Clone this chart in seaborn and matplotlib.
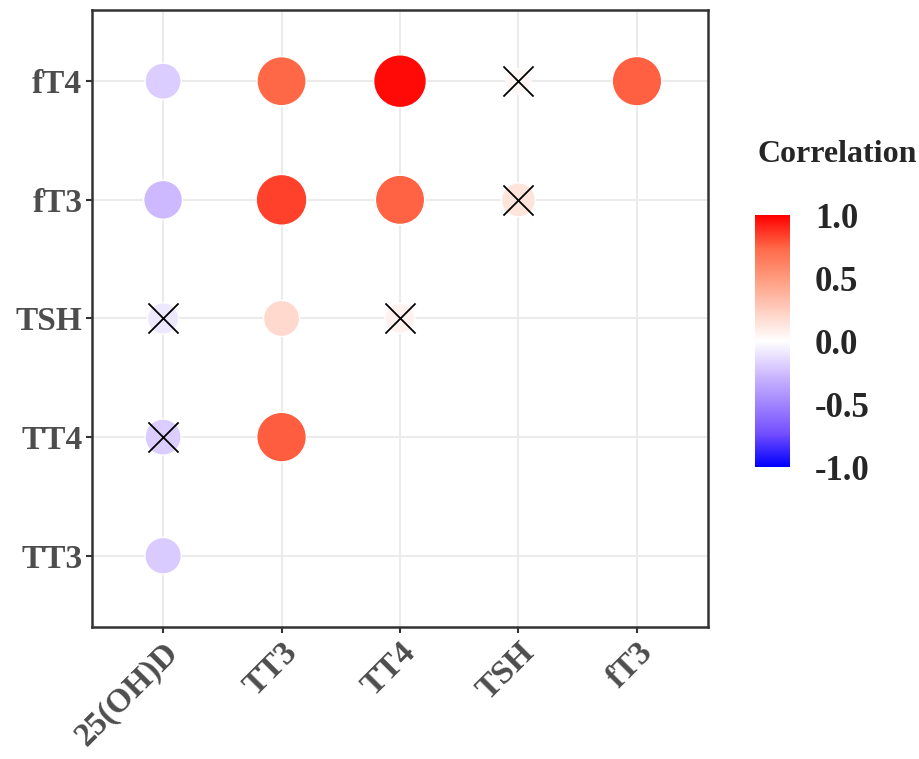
import numpy as np
import pandas as pd
import matplotlib
matplotlib.use('Agg')
import matplotlib.pyplot as plt
from matplotlib.colors import LinearSegmentedColormap, Normalize
import seaborn as sns

sns.set_style('white')
plt.rcParams['font.family'] = ['Liberation Serif', 'DejaVu Serif']
plt.rcParams['font.weight'] = 'bold'

# variables on each axis
x_vars = ['25(OH)D', 'TT3', 'TT4', 'TSH', 'fT3']
y_vars = ['TT3', 'TT4', 'TSH', 'fT3', 'fT4']

# lower-triangle pairs (column, row, correlation, non-significant?)
pair_x = ['25(OH)D', '25(OH)D', '25(OH)D', '25(OH)D', '25(OH)D',
          'TT3', 'TT3', 'TT3', 'TT3',
          'TT4', 'TT4', 'TT4',
          'TSH', 'TSH',
          'fT3']
pair_y = ['TT3', 'TT4', 'TSH', 'fT3', 'fT4',
          'TT4', 'TSH', 'fT3', 'fT4',
          'TSH', 'fT3', 'fT4',
          'fT3', 'fT4',
          'fT4']
corr = [-0.20, -0.19, -0.09, -0.27, -0.19,
        0.77, 0.19, 0.84, 0.74,
        0.07, 0.75, 0.97,
        0.14, 0.04,
        0.76]
nonsig = [False, True, True, False, False,
          False, False, False, False,
          True, False, False,
          True, True,
          False]

df = pd.DataFrame({'x': pair_x, 'y': pair_y, 'r': corr, 'ns': nonsig})
df['xi'] = df['x'].map({v: i for i, v in enumerate(x_vars)})
df['yi'] = df['y'].map({v: i for i, v in enumerate(y_vars)})
df['absr'] = df['r'].abs()

# blue - white - red, roughly like ggplot's Lab gradient
cmap = LinearSegmentedColormap.from_list('corr', [
    (0.0, '#0000FF'), (0.125, '#6F4BFF'), (0.25, '#A185FF'), (0.375, '#D0BEFF'),
    (0.5, '#FFFFFF'), (0.625, '#FFCDBE'), (0.75, '#FF9B7E'), (0.875, '#FF6645'),
    (1.0, '#FF0000')])
norm = Normalize(-1, 1)

# size: diameter grows with sqrt of rescaled |r| (like scale_size)
lo, hi = df['absr'].min(), df['absr'].max()
d_min, d_max = 18.0, 38.0  # points
size_map = {v: (d_min + (d_max - d_min) * np.sqrt((v - lo) / (hi - lo))) ** 2
            for v in df['absr'].unique()}

fig = plt.figure(figsize=(9.2, 7.59), dpi=100)
ax = fig.add_axes([0.1, 0.174, 0.6696, 0.8128])

sns.scatterplot(data=df, x='xi', y='yi', hue='r', palette=cmap, hue_norm=norm,
                size='absr', sizes=size_map, edgecolor='white', linewidth=1,
                legend=False, ax=ax, zorder=3)
sns.scatterplot(data=df[df['ns']], x='xi', y='yi', marker='x', color='black',
                s=470, linewidth=1.3, legend=False, ax=ax, zorder=4)

ax.set_xlim(-0.6, 4.6)
ax.set_ylim(-0.6, 4.6)
ax.set_xticks(range(len(x_vars)))
ax.set_xticklabels(x_vars, rotation=45, ha='right', va='top',
                   rotation_mode='anchor', fontsize=24, fontweight='bold', color='#4D4D4D')
ax.set_yticks(range(len(y_vars)))
ax.set_yticklabels(y_vars, fontsize=24, fontweight='bold', color='#4D4D4D')
ax.set_xlabel('')
ax.set_ylabel('')
ax.grid(True, color='#EBEBEB', linewidth=1.5)
ax.set_axisbelow(True)
ax.tick_params(axis='both', length=4, width=1.5, color='#333333', pad=3,
               bottom=True, left=True)
for sp in ax.spines.values():
    sp.set_color('#333333')
    sp.set_linewidth(1.8)

cax = fig.add_axes([0.8207, 0.3847, 0.038, 0.332])
sm = plt.cm.ScalarMappable(cmap=cmap, norm=norm)
cb = fig.colorbar(sm, cax=cax, ticks=[-1, -0.5, 0, 0.5, 1])
cb.outline.set_visible(False)
cb.ax.set_yticklabels(['-1.0', '-0.5', '0.0', '0.5', '1.0'], fontsize=25, fontweight='bold')
cax.yaxis.set_ticks_position('both')
cax.tick_params(axis='y', direction='in', length=5, width=1, color='white',
                labelright=True, labelleft=False, pad=18)
fig.text(0.823, 0.797, 'Correlation', fontsize=23, fontweight='bold', ha='left', va='center')

fig.savefig('out.png', dpi=100)
